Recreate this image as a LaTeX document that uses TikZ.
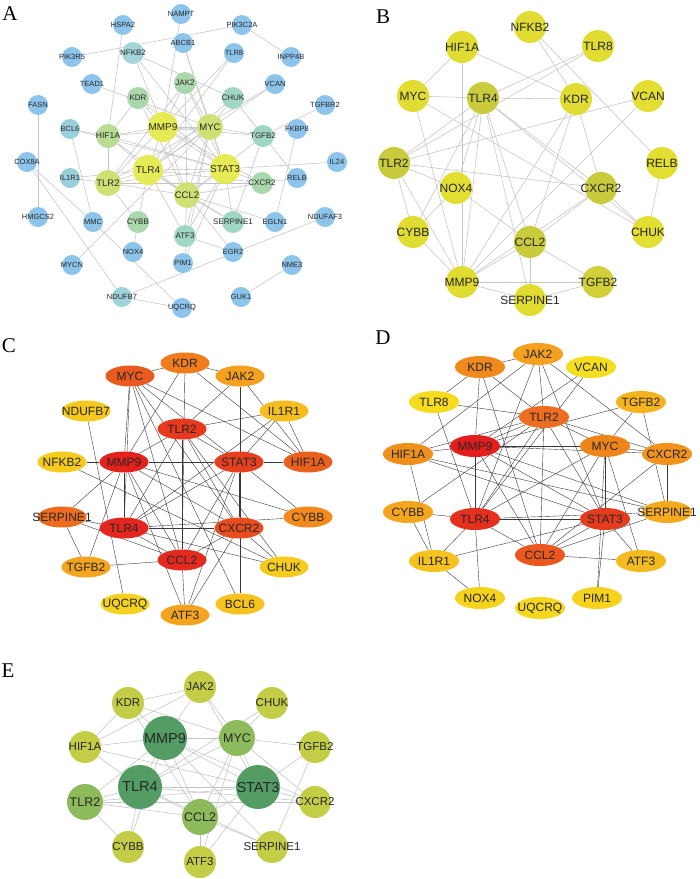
\documentclass[tikz,border=0pt]{standalone}
\usepackage{fontspec}
\setmainfont{Liberation Sans}
\newfontfamily\panelfont{Liberation Serif}
\usetikzlibrary{shapes.geometric}
\pgfdeclarelayer{bg}\pgfsetlayers{bg,main}
\definecolor{txt}{HTML}{262626}
\definecolor{ledge}{HTML}{C4C4C4}
\definecolor{dedge}{HTML}{3A3A3A}
\newcommand\gnode[6]{\definecolor{tmpc}{HTML}{#5}\node[#6,fill=tmpc] (#1#2) at (#3,#4) {\makebox[0pt]{#2}};}
\tikzset{
 gn/.style={circle,draw=none,inner sep=0pt,text=txt},
 aS/.style={gn,minimum size=20pt,font=\fontsize{7.5}{7.5}\selectfont},
 aM/.style={gn,minimum size=22pt,font=\fontsize{8}{8}\selectfont},
 aH/.style={gn,minimum size=24pt,font=\fontsize{8.5}{8.5}\selectfont},
 aL/.style={gn,minimum size=26pt,font=\fontsize{9.5}{9.5}\selectfont},
 aX/.style={gn,minimum size=30pt,font=\fontsize{10}{10}\selectfont},
 bN/.style={gn,minimum size=32pt,font=\fontsize{12}{12}\selectfont},
 en/.style={ellipse,draw=none,inner sep=0pt,text=txt,minimum width=49pt,minimum height=21pt,font=\fontsize{12}{12}\selectfont},
 dn/.style={en,minimum width=50pt,minimum height=22pt},
 eS/.style={gn,minimum size=32pt,font=\fontsize{11.5}{11.5}\selectfont},
 eM/.style={gn,minimum size=36pt,font=\fontsize{12.5}{12.5}\selectfont},
 eL/.style={gn,minimum size=44pt,font=\fontsize{14.5}{14.5}\selectfont},
 ledg/.style={draw=ledge,line width=0.55pt},
 dedg/.style={draw=dedge,line width=0.4pt},
 plab/.style={font=\panelfont\fontsize{21}{21}\selectfont,text=black,inner sep=0pt},
}
\begin{document}
\begin{tikzpicture}[x=1pt,y=-1pt]
\begin{pgfonlayer}{bg}
\fill[white] (0,0) rectangle (700,879);
\end{pgfonlayer}
\useasboundingbox (0,0) rectangle (700,879);
% panel letters
\node[plab] (labA) at (10,14) {A};
\node[plab] (labB) at (383,17) {B};
\node[plab] (labC) at (9,346) {C};
\node[plab] (labD) at (383,338) {D};
\node[plab] (labE) at (8,671) {E};
% ---------------- Panel A
\foreach \n/\x/\y/\cc in {HSPA2/123/25/8DC4EC,NAMPT/181/14/8DC4EC,PIK3R5/72/57/8DC4EC,ABCB1/183/43/8DC4EC,PIK3C2A/242/25/8DC4EC,TLR8/234/53/8DC4EC,INPP4B/291/57/8DC4EC,TEAD1/92/84/8DC4EC,FASN/38/105/8DC4EC,VCAN/275/84/8DC4EC,TGFBR2/325/105/8DC4EC,FKBP8/297/129/8DC4EC,COX8A/27/162/8DC4EC,IL24/337/162/8DC4EC,RELB/297/178/8DC4EC,HMGCS2/38/217/8DC4EC,MMC/93/222/8DC4EC,EGLN1/275/222/8DC4EC,NDUFAF3/325/217/8DC4EC,NOX4/133/252/8DC4EC,PIM1/183/263/8DC4EC,EGR2/233/252/8DC4EC,MYCN/72/265/8DC4EC,NME3/292/265/8DC4EC,GUK1/241/297/8DC4EC,UQCRQ/182/308/8DC4EC,BCL6/70/129/9ACFDC,IL1R1/70/178/9ACFDC,NDUFB7/122/297/A0D2DC}
 {\gnode{a}{\n}{\x}{\y}{\cc}{aS}}
\foreach \n/\x/\y/\cc in {NFKB2/133/53/A4D5D8,KDR/138/98/AAD7AC,JAK2/185/83/AAD7AC,CHUK/233/98/A0D7C3,TGFB2/263/136/A0D7C3,CXCR2/262/183/AAD7AC,CYBB/138/222/AAD7AC,ATF3/185/236/A0D7C3,SERPINE1/233/222/A0D7C3}
 {\gnode{a}{\n}{\x}{\y}{\cc}{aM}}
\gnode{a}{HIF1A}{108}{136}{B9DC93}{aH}
\foreach \n/\x/\y in {TLR2/108/183,CCL2/187/195,MYC/210/127}
 {\gnode{a}{\n}{\x}{\y}{CDE175}{aL}}
\foreach \n/\x/\y in {MMP9/163/127,TLR4/148/170,STAT3/225/169}
 {\gnode{a}{\n}{\x}{\y}{E6EB55}{aX}}
\begin{pgfonlayer}{bg}
\foreach \u/\v in {PIK3R5/PIK3C2A,PIK3C2A/INPP4B,NAMPT/MMP9,HSPA2/HIF1A,NFKB2/CHUK,NFKB2/STAT3,NFKB2/MMP9,ABCB1/MYC,ABCB1/STAT3,TEAD1/MYC,FASN/HMGCS2,COX8A/NDUFB7,COX8A/MMC,BCL6/HIF1A,BCL6/MMC,BCL6/STAT3,IL1R1/TLR2,IL1R1/TLR4,MMC/UQCRQ,MYCN/MYC,NDUFB7/NDUFAF3,NDUFB7/UQCRQ,NME3/GUK1,CYBB/NOX4,CYBB/TLR4,CYBB/TLR2,EGR2/ATF3,EGR2/CCL2,PIM1/STAT3,PIM1/MYC,ATF3/CCL2,ATF3/STAT3,ATF3/MYC,ATF3/TLR4,SERPINE1/CCL2,SERPINE1/TLR4,SERPINE1/STAT3,SERPINE1/TGFB2,EGLN1/CCL2,EGLN1/FKBP8,TGFBR2/TGFB2,IL24/STAT3,RELB/CHUK,RELB/CXCR2,TLR8/TLR4,TLR8/MMP9,VCAN/TLR2,VCAN/TLR4,KDR/HIF1A,KDR/MMP9,KDR/CCL2,KDR/STAT3,JAK2/STAT3,JAK2/MYC,JAK2/MMP9,JAK2/TLR2,JAK2/CCL2,CHUK/MYC,CHUK/TLR4,TGFB2/MMP9,TGFB2/MYC,TGFB2/CCL2,CXCR2/TLR4,CXCR2/STAT3,CXCR2/MMP9,CXCR2/CCL2,CXCR2/TLR2,HIF1A/MMP9,HIF1A/TLR4,HIF1A/STAT3,HIF1A/MYC,HIF1A/TLR2,HIF1A/CCL2,TLR2/TLR4,TLR2/MMP9,TLR2/STAT3,TLR2/CCL2,MMP9/TLR4,MMP9/MYC,MMP9/STAT3,MMP9/CCL2,TLR4/STAT3,TLR4/CCL2,TLR4/MYC,MYC/STAT3,MYC/CCL2,STAT3/CCL2}
 {\draw[ledg] (a\u) -- (a\v);}
\end{pgfonlayer}
% ---------------- Panel B
\foreach \n/\x/\y/\cc in {NFKB2/530/27/E1DC32,HIF1A/462/47/E1DC32,TLR8/598/46/E1DC32,MYC/413/96/E1DC32,TLR4/483/98/C9CB3C,KDR/576/99/E1DC32,VCAN/648/96/E3DE32,TLR2/394/163/C9CB3C,RELB/662/163/E3DE32,NOX4/456/188/E3DE32,CXCR2/601/188/C9CB3C,CYBB/413/232/E1DC32,CHUK/648/232/E3DE32,CCL2/530/242/C9CB3C,MMP9/462/282/E1DC32,TGFB2/598/282/D2D038,SERPINE1/530/300/E1DC32}
 {\gnode{b}{\n}{\x}{\y}{\cc}{bN}}
\begin{pgfonlayer}{bg}
\foreach \u/\v in {NFKB2/KDR,NFKB2/RELB,HIF1A/MYC,HIF1A/KDR,HIF1A/MMP9,TLR8/TLR4,TLR8/TLR2,MYC/TLR4,TLR4/KDR,MYC/CHUK,MYC/MMP9,VCAN/TLR2,VCAN/MMP9,KDR/MMP9,KDR/CCL2,KDR/CXCR2,TLR4/TLR2,TLR4/NOX4,TLR4/CYBB,TLR4/MMP9,TLR4/CCL2,TLR4/SERPINE1,TLR4/CXCR2,TLR4/CHUK,RELB/CHUK,TLR2/CXCR2,TLR2/NOX4,TLR2/CYBB,TLR2/MMP9,NOX4/CYBB,NOX4/CCL2,CXCR2/CCL2,CXCR2/MMP9,CXCR2/CHUK,CYBB/MMP9,CCL2/MMP9,CCL2/TGFB2,CCL2/SERPINE1,MMP9/TGFB2,MMP9/SERPINE1,SERPINE1/TGFB2}
 {\draw[ledg] (b\u) -- (b\v);}
\end{pgfonlayer}
% ---------------- Panel C
\foreach \n/\x/\y/\cc in {KDR/185/363/F07C1C,MYC/130/376/E85A1E,JAK2/240/376/F5A01E,NDUFB7/86/411/F5C81E,IL1R1/284/411/F5BE1E,TLR2/182/429/E8391E,NFKB2/62/462/F5CB1E,MMP9/124/462/E4211C,STAT3/239/462/E6401E,HIF1A/308/462/EC601E,SERPINE1/62/517/EE6C1E,TLR4/124/528/E4271E,CXCR2/239/528/E84D1E,CYBB/308/517/F28A1C,TGFB2/86/567/F5A41E,CCL2/182/560/E42A1E,CHUK/284/567/F5CB1E,UQCRQ/125/604/F5D21E,ATF3/185/615/F5A41E,BCL6/240/604/F5C21E}
 {\gnode{c}{\n}{\x}{\y}{\cc}{en}}
\begin{pgfonlayer}{bg}
\foreach \u/\v in {MYC/KDR,KDR/JAK2,MYC/MMP9,MYC/TLR4,MYC/STAT3,MYC/HIF1A,MYC/CXCR2,MYC/CCL2,MYC/BCL6,KDR/MMP9,KDR/CCL2,KDR/HIF1A,JAK2/BCL6,JAK2/TLR2,JAK2/HIF1A,NDUFB7/UQCRQ,IL1R1/TLR2,IL1R1/STAT3,IL1R1/TLR4,IL1R1/HIF1A,TLR2/MMP9,TLR2/TLR4,TLR2/CCL2,TLR2/CXCR2,TLR2/STAT3,TLR2/CHUK,NFKB2/MMP9,NFKB2/CHUK,MMP9/STAT3,MMP9/TLR4,MMP9/CCL2,MMP9/CXCR2,MMP9/CYBB,MMP9/SERPINE1,MMP9/TGFB2,MMP9/ATF3,STAT3/HIF1A,STAT3/TLR4,STAT3/CCL2,STAT3/CXCR2,STAT3/CYBB,STAT3/ATF3,SERPINE1/TLR4,SERPINE1/TGFB2,SERPINE1/CCL2,TLR4/CXCR2,TLR4/CCL2,TLR4/CHUK,TLR4/CYBB,CXCR2/CCL2,CXCR2/CHUK,CCL2/TGFB2,CCL2/ATF3,CXCR2/ATF3}
 {\draw[dedg] (c\u) -- (c\v);}
\end{pgfonlayer}
% ---------------- Panel D
\foreach \n/\x/\y/\cc in {JAK2/538/354/F5A01E,KDR/480/367/F08A1C,VCAN/591/367/F5DE20,TLR8/434/402/F5DC1E,TGFB2/641/402/F5B41E,TLR2/544/417/EC6E1E,MMP9/475/446/E41E1C,MYC/605/446/F0841C,HIF1A/408/454/F0901C,CXCR2/667/454/F0921C,CYBB/408/512/F5A41E,TLR4/475/519/E6301E,STAT3/605/519/E63C1E,SERPINE1/667/512/F5AA1E,CCL2/540/555/EA581E,IL1R1/434/561/F5C21E,ATF3/641/561/F5BA1E,NOX4/480/598/F5D21E,PIM1/597/598/F5D21E,UQCRQ/540/608/F5D81E}
 {\gnode{d}{\n}{\x}{\y}{\cc}{dn}}
\begin{pgfonlayer}{bg}
\foreach \u/\v in {KDR/JAK2,KDR/TLR8,KDR/MMP9,KDR/CCL2,KDR/TLR2,JAK2/TLR2,JAK2/STAT3,JAK2/CXCR2,JAK2/HIF1A,JAK2/TLR4,VCAN/TLR4,VCAN/MMP9,TLR8/TLR2,TLR8/TLR4,TGFB2/MMP9,TGFB2/MYC,TGFB2/SERPINE1,TLR2/MMP9,TLR2/TLR4,TLR2/MYC,TLR2/CXCR2,TLR2/STAT3,TLR2/CCL2,TLR2/HIF1A,MMP9/MYC,MMP9/HIF1A,MMP9/TLR4,MMP9/CCL2,MMP9/STAT3,MMP9/SERPINE1,MMP9/CXCR2,MYC/CXCR2,MYC/STAT3,MYC/CCL2,MYC/ATF3,MYC/PIM1,MYC/TLR4,HIF1A/STAT3,HIF1A/IL1R1,HIF1A/SERPINE1,CXCR2/CCL2,CXCR2/SERPINE1,CYBB/TLR4,CYBB/IL1R1,CYBB/TLR2,TLR4/STAT3,TLR4/CCL2,TLR4/IL1R1,TLR4/NOX4,TLR4/SERPINE1,STAT3/CCL2,STAT3/IL1R1,STAT3/PIM1,STAT3/ATF3,CCL2/ATF3,CCL2/SERPINE1,IL1R1/NOX4}
 {\draw[dedg] (d\u) -- (d\v);}
\end{pgfonlayer}
% ---------------- Panel E
\foreach \n/\x/\y in {JAK2/200/687,KDR/128/703,CHUK/272/703,HIF1A/85/747,TGFB2/315/747,CXCR2/315/802,CYBB/128/847,SERPINE1/272/847,ATF3/200/862}
 {\gnode{e}{\n}{\x}{\y}{C3CE46}{eS}}
\foreach \n/\x/\y in {MYC/237/738,TLR2/85/802,CCL2/200/817}
 {\gnode{e}{\n}{\x}{\y}{8DBA5A}{eM}}
\foreach \n/\x/\y in {MMP9/165/738,TLR4/140/787,STAT3/258/787}
 {\gnode{e}{\n}{\x}{\y}{539D65}{eL}}
\begin{pgfonlayer}{bg}
\foreach \u/\v in {JAK2/KDR,JAK2/MMP9,JAK2/MYC,JAK2/STAT3,JAK2/HIF1A,KDR/HIF1A,KDR/MMP9,KDR/MYC,KDR/CCL2,CHUK/MYC,CHUK/TLR4,MMP9/MYC,MMP9/HIF1A,MMP9/TLR4,MMP9/STAT3,MMP9/CCL2,MMP9/TLR2,MMP9/CYBB,MMP9/SERPINE1,MMP9/CXCR2,MYC/TGFB2,MYC/STAT3,MYC/TLR4,MYC/CCL2,MYC/CXCR2,MYC/ATF3,HIF1A/TLR4,HIF1A/STAT3,TGFB2/STAT3,TGFB2/SERPINE1,TLR4/STAT3,TLR4/TLR2,TLR4/CYBB,TLR4/CCL2,TLR4/CXCR2,TLR4/SERPINE1,STAT3/CCL2,STAT3/ATF3,STAT3/TLR2,STAT3/CXCR2,TLR2/CYBB,TLR2/CCL2,TLR2/CXCR2,CCL2/ATF3,CCL2/SERPINE1}
 {\draw[ledg] (e\u) -- (e\v);}
\end{pgfonlayer}
\end{tikzpicture}
\end{document}
